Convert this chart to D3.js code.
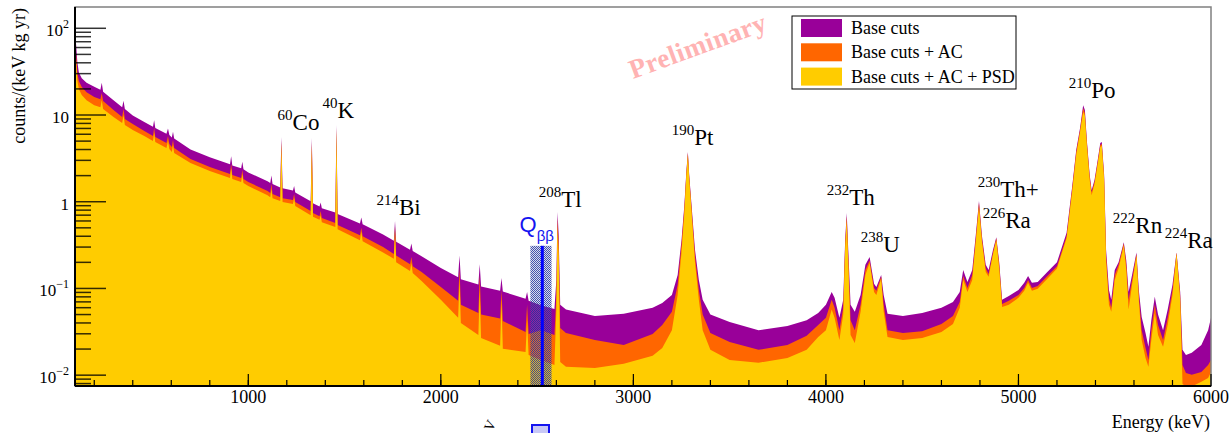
<!DOCTYPE html>
<html lang="en">
<head>
<meta charset="UTF-8"/>
<title>Energy spectrum with cuts</title>
<script src="https://d3js.org/d3.v7.min.js"></script>
<style>
body { margin: 0; background: #fff; }
svg { display: block; font-family: "Liberation Serif", "Times New Roman", serif; }
</style>
</head>
<body>
<script>
var w = 1230;
var h = 433;
var plotLeft = 75, plotRight = 1211, plotTop = 7, plotBottom = 386;

// energy points (keV) and the three spectra, counts/(keV kg yr)
var energy = [100,106,112,120,135,160,200,232,239,246,300,345,352,359,400,460,505,511,517,575,
    583,590,603,609,615,700,800,905,911,917,963,969,975,1000,1100,1114,1120,1126,1166,1172,
    1178,1232,1238,1244,1324,1330,1336,1370,1376,1382,1452,1458,1464,1580,1587,1594,1700,1756,1762,1768,
    1840,1847,1854,1900,2000,2090,2097,2104,2195,2202,2209,2308,2315,2322,2440,2448,2456,2520,2590,2600,
    2606,2612,2620,2650,2800,2950,3100,3150,3200,3230,3250,3265,3275,3283,3290,3300,3320,3340,3360,3400,
    3500,3650,3800,3900,3960,4000,4030,4045,4070,4090,4100,4108,4116,4128,4150,4180,4205,4227,4250,4262,
    4287,4300,4320,4400,4500,4600,4660,4695,4713,4735,4760,4780,4795,4810,4830,4845,4868,4885,4900,4915,
    4950,5000,5030,5050,5070,5100,5150,5200,5250,5280,5300,5320,5336,5345,5355,5370,5380,5395,5410,5425,
    5433,5445,5455,5470,5482,5500,5520,5547,5560,5572,5590,5613,5625,5640,5660,5675,5690,5708,5725,5751,
    5775,5800,5821,5840,5852,5870,5900,5950,5985,6000];

var baseCuts = [90,64,41,31,26.5,23.5,21.2,19.6,23.5,18.6,14.8,12.3,14.6,11.7,9.9,8.3,7.3,8.7,7.1,6.1,
    7.0,5.9,5.5,6.4,5.35,4.0,3.25,2.7,3.35,2.62,2.43,2.9,2.37,2.18,1.72,1.64,2.0,1.6,1.46,5.56,
    1.43,1.35,1.52,1.28,1.01,5.42,0.96,0.88,0.98,0.84,0.75,7.65,0.72,0.56,0.66,0.55,0.42,0.355,0.60,0.345,
    0.28,0.33,0.27,0.235,0.172,0.135,0.24,0.128,0.111,0.19,0.105,0.094,0.132,0.092,0.076,0.091,0.072,0.064,0.058,0.125,
    0.76,0.41,0.065,0.057,0.048,0.051,0.060,0.068,0.084,0.143,0.36,0.92,2.20,3.74,2.03,1.05,0.28,0.125,0.074,0.050,
    0.041,0.033,0.037,0.043,0.052,0.065,0.091,0.078,0.046,0.074,0.36,0.74,0.28,0.065,0.054,0.084,0.187,0.23,0.113,0.104,
    0.143,0.084,0.051,0.048,0.052,0.060,0.070,0.091,0.163,0.119,0.163,0.45,1.02,0.41,0.187,0.163,0.28,0.39,0.20,0.074,
    0.082,0.096,0.116,0.139,0.116,0.119,0.155,0.20,0.44,1.56,3.94,7.06,13.0,11.4,5.14,2.03,1.36,1.78,2.87,4.75,
    4.87,2.03,0.28,0.096,0.074,0.163,0.20,0.34,0.21,0.091,0.143,0.26,0.096,0.047,0.0307,0.0212,0.043,0.080,0.050,0.033,
    0.057,0.110,0.26,0.091,0.0196,0.0171,0.0181,0.0223,0.033,0.046];

var baseCutsAC = [73,49,31,24.6,21.0,18.3,16.1,15.2,17.9,14.5,11.4,9.46,11.7,8.97,7.86,6.52,5.71,7.06,5.56,4.75,
    5.71,4.62,4.27,5.14,4.16,3.10,2.51,2.09,2.72,2.03,1.88,2.32,1.83,1.69,1.33,1.26,1.60,1.23,1.13,5.00,
    1.10,1.05,1.23,0.99,0.78,4.87,0.74,0.68,0.78,0.65,0.57,7.06,0.54,0.41,0.50,0.40,0.30,0.25,0.52,0.24,
    0.19,0.23,0.18,0.155,0.104,0.072,0.17,0.065,0.052,0.143,0.050,0.045,0.096,0.042,0.0315,0.065,0.0299,0.033,0.0291,0.084,
    0.65,0.32,0.035,0.0307,0.0255,0.0223,0.0299,0.038,0.054,0.110,0.32,0.85,2.09,3.64,1.93,0.97,0.24,0.096,0.050,0.0307,
    0.0242,0.0196,0.0223,0.0284,0.038,0.046,0.074,0.060,0.033,0.060,0.33,0.68,0.24,0.043,0.033,0.065,0.163,0.21,0.101,0.094,
    0.136,0.065,0.033,0.0307,0.032,0.039,0.048,0.070,0.139,0.101,0.143,0.41,0.97,0.38,0.17,0.147,0.26,0.38,0.187,0.066,
    0.072,0.084,0.101,0.125,0.101,0.107,0.139,0.18,0.40,1.48,3.74,6.70,12.0,10.5,4.87,1.93,1.29,1.69,2.72,4.50,
    4.62,1.88,0.24,0.078,0.060,0.143,0.187,0.33,0.187,0.074,0.125,0.25,0.084,0.033,0.0206,0.0150,0.033,0.065,0.038,0.0255,
    0.046,0.096,0.26,0.082,0.0131,0.0106,0.0101,0.0109,0.0131,0.0150];

var baseCutsACPSD = [56,41,25,19.9,17.0,14.8,13.0,12.3,14.8,11.7,9.46,8.07,9.97,7.65,6.70,5.71,5.00,6.19,4.87,4.16,
    5.00,4.05,3.74,4.50,3.64,2.79,2.26,1.88,2.44,1.83,1.69,2.09,1.64,1.52,1.19,1.13,1.40,1.10,1.02,4.62,
    0.99,0.94,1.10,0.89,0.70,4.38,0.67,0.62,0.70,0.58,0.51,6.52,0.48,0.36,0.45,0.35,0.26,0.22,0.47,0.20,
    0.159,0.197,0.151,0.122,0.074,0.046,0.125,0.040,0.0291,0.096,0.0269,0.0218,0.074,0.0201,0.0185,0.043,0.0171,0.0150,0.0131,0.057,
    0.52,0.24,0.0142,0.0125,0.0121,0.0135,0.0167,0.0206,0.033,0.084,0.26,0.76,1.98,3.45,1.83,0.89,0.20,0.074,0.033,0.0196,
    0.0150,0.0139,0.0158,0.0196,0.0276,0.033,0.057,0.046,0.0255,0.050,0.28,0.62,0.20,0.0291,0.0235,0.054,0.143,0.197,0.091,0.084,
    0.129,0.054,0.0276,0.0255,0.0269,0.0315,0.039,0.060,0.125,0.091,0.125,0.38,0.87,0.35,0.155,0.136,0.25,0.36,0.17,0.061,
    0.065,0.078,0.094,0.116,0.094,0.099,0.129,0.17,0.38,1.36,3.45,6.35,10.8,9.71,4.50,1.78,1.19,1.60,2.58,4.27,
    4.38,1.78,0.21,0.065,0.054,0.125,0.17,0.31,0.163,0.057,0.110,0.24,0.074,0.0255,0.0158,0.0125,0.0255,0.052,0.0291,0.0212,
    0.038,0.084,0.25,0.074,0.0079,0.0074,0.0074,0.0084,0.0093,0.0109];

var seriesNames = ["Base cuts", "Base cuts + AC", "Base cuts + AC + PSD"];
var seriesColors = ["#990099", "#ff6600", "#ffcc00"];

var xTicks = [1000, 2000, 3000, 4000, 5000, 6000];
var yTicks = [0.01, 0.1, 1, 10, 100];
var yTickBase = ["10", "10", "1", "10", "10"];
var yTickExp = ["\u22122", "\u22121", "", "", "2"];

// peak labels: mass number, element, and where the label sits (keV, counts)
var peakMass = ["60", "40", "214", "208", "190", "232", "238", "230", "226", "210", "222", "224"];
var peakName = ["Co", "K", "Bi", "Tl", "Pt", "Th", "U", "Th+", "Ra", "Po", "Rn", "Ra"];
var peakLabelE = [1152, 1386, 1666, 2508, 3199, 4004, 4181, 4788, 4814, 5261, 5490, 5760];
var peakLabelV = [6.7, 9.2, 0.70, 0.87, 4.5, 0.92, 0.26, 1.13, 0.50, 15.6, 0.44, 0.29];

var qbb = 2527;
var qbbWindow = [2465, 2575];
var qbbTop = 0.31;

var x = d3.scaleLinear().domain([100, 6000]).range([plotLeft, plotRight]);
var y = d3.scaleLog().domain([0.0075, 176]).range([plotBottom, plotTop]);

var svg = d3.select("body")
    .append("svg")
    .attr("width", w)
    .attr("height", h);

var defs = svg.append("defs");
defs.append("clipPath").attr("id", "plotclip")
    .append("rect")
    .attr("x", plotLeft).attr("y", plotTop)
    .attr("width", plotRight - plotLeft).attr("height", plotBottom - plotTop);

// checker fill for the Qbb window
var pat = defs.append("pattern").attr("id", "checker")
    .attr("width", 2).attr("height", 2).attr("patternUnits", "userSpaceOnUse");
pat.append("rect").attr("width", 2).attr("height", 2).attr("fill", "#7a7fb8").attr("fill-opacity", 0.35);
pat.append("rect").attr("width", 1).attr("height", 1).attr("fill", "#2233a0");
pat.append("rect").attr("x", 1).attr("y", 1).attr("width", 1).attr("height", 1).attr("fill", "#2233a0");

var plot = svg.append("g").attr("clip-path", "url(#plotclip)");

[baseCuts, baseCutsAC, baseCutsACPSD].forEach(function (vals, i) {
    var area = d3.area()
        .x(function (d, j) { return x(energy[j]); })
        .y0(plotBottom)
        .y1(function (d) { return y(d); });
    plot.append("path")
        .datum(vals)
        .attr("d", area)
        .attr("fill", seriesColors[i]);
});

// Qbb window and line
plot.append("rect")
    .attr("x", x(qbbWindow[0]))
    .attr("y", y(qbbTop))
    .attr("width", x(qbbWindow[1]) - x(qbbWindow[0]))
    .attr("height", plotBottom - y(qbbTop))
    .attr("fill", "url(#checker)")
    .attr("opacity", 0.85);
plot.append("line")
    .attr("x1", x(qbb)).attr("x2", x(qbb))
    .attr("y1", y(qbbTop)).attr("y2", plotBottom)
    .attr("stroke", "#0000ff")
    .attr("stroke-width", 3);

// frame
svg.append("rect")
    .attr("x", plotLeft).attr("y", plotTop)
    .attr("width", plotRight - plotLeft).attr("height", plotBottom - plotTop)
    .attr("fill", "none")
    .attr("stroke", "#808080")
    .attr("stroke-width", 1.5);

// y axis ticks, pointing inward
var yMinor = [];
for (var e = -3; e <= 2; e++) {
    for (var m = 2; m <= 9; m++) {
        var v = m * Math.pow(10, e);
        if (v >= y.domain()[0] && v <= y.domain()[1]) yMinor.push(v);
    }
}
svg.selectAll(".yminor")
    .data(yMinor)
    .enter()
    .append("line")
    .attr("x1", plotLeft).attr("x2", plotLeft + 16)
    .attr("y1", function (d) { return y(d); })
    .attr("y2", function (d) { return y(d); })
    .attr("stroke", "#000").attr("stroke-opacity", 0.8).attr("stroke-width", 1.5);
svg.selectAll(".ymajor")
    .data(yTicks)
    .enter()
    .append("line")
    .attr("x1", plotLeft).attr("x2", plotLeft + 31)
    .attr("y1", function (d) { return y(d); })
    .attr("y2", function (d) { return y(d); })
    .attr("stroke", "#000").attr("stroke-opacity", 0.8).attr("stroke-width", 1.5);

var yLab = svg.selectAll(".ylab")
    .data(yTicks)
    .enter()
    .append("text")
    .attr("x", 69)
    .attr("y", function (d) { return y(d) + 8; })
    .attr("text-anchor", "end")
    .attr("font-size", 17);
yLab.append("tspan").text(function (d, i) { return yTickBase[i]; });
yLab.append("tspan")
    .attr("font-size", 12)
    .attr("dy", -8)
    .text(function (d, i) { return yTickExp[i]; });

// x axis ticks
var xMinor = d3.range(200, 6000, 200);
svg.selectAll(".xminor")
    .data(xMinor)
    .enter()
    .append("line")
    .attr("x1", function (d) { return x(d); })
    .attr("x2", function (d) { return x(d); })
    .attr("y1", plotBottom).attr("y2", plotBottom - 6)
    .attr("stroke", "#000").attr("stroke-width", 1.2);
svg.selectAll(".xmajor")
    .data(xTicks)
    .enter()
    .append("line")
    .attr("x1", function (d) { return x(d); })
    .attr("x2", function (d) { return x(d); })
    .attr("y1", plotBottom).attr("y2", plotBottom - 12)
    .attr("stroke", "#000").attr("stroke-width", 1.2);
svg.selectAll(".xlab")
    .data(xTicks)
    .enter()
    .append("text")
    .attr("x", function (d) { return x(d); })
    .attr("y", plotBottom + 17)
    .attr("text-anchor", "middle")
    .attr("font-size", 18)
    .text(function (d) { return d; });

// axis lines
svg.append("line")
    .attr("x1", plotLeft).attr("x2", plotLeft)
    .attr("y1", plotTop).attr("y2", plotBottom)
    .attr("stroke", "#000").attr("stroke-width", 2);
svg.append("line")
    .attr("x1", plotLeft).attr("x2", plotRight)
    .attr("y1", plotBottom).attr("y2", plotBottom)
    .attr("stroke", "#000").attr("stroke-width", 2);

// axis titles
svg.append("text")
    .attr("x", plotRight - 1)
    .attr("y", 428)
    .attr("text-anchor", "end")
    .attr("font-size", 18)
    .text("Energy (keV)");
svg.append("text")
    .attr("transform", "translate(25,8) rotate(-90)")
    .attr("text-anchor", "end")
    .attr("font-size", 18)
    .text("counts/(keV kg yr)");

// peak labels
peakMass.forEach(function (mass, i) {
    var t = svg.append("text")
        .attr("x", x(peakLabelE[i]))
        .attr("y", y(peakLabelV[i]))
        .attr("font-size", 23);
    t.append("tspan").attr("font-size", 15).attr("dy", -10).text(mass);
    t.append("tspan").attr("dy", 10).text(peakName[i]);
});

// Qbb label
var q = svg.append("text")
    .attr("x", x(2409))
    .attr("y", y(0.45))
    .attr("fill", "#1414f0")
    .attr("font-family", "Liberation Sans, Arial, sans-serif")
    .attr("font-size", 22);
q.append("tspan").text("Q");
q.append("tspan").attr("font-size", 15).attr("dy", 9).text("\u03b2\u03b2");

// preliminary stamp
svg.append("text")
    .attr("transform", "translate(633,79) rotate(-20)")
    .attr("font-size", 27)
    .attr("font-weight", "bold")
    .attr("fill", "#ffb3b3")
    .attr("letter-spacing", 0.5)
    .text("Preliminary");

// legend
var lg = svg.append("g");
lg.append("rect")
    .attr("x", 792).attr("y", 16)
    .attr("width", 224).attr("height", 73)
    .attr("fill", "#fff")
    .attr("stroke", "#000")
    .attr("stroke-width", 1);
seriesNames.forEach(function (name, i) {
    lg.append("rect")
        .attr("x", 801).attr("y", 19 + i * 24.3)
        .attr("width", 41).attr("height", 18)
        .attr("fill", seriesColors[i]);
    lg.append("text")
        .attr("x", 851).attr("y", 34 + i * 24.3)
        .attr("font-size", 18)
        .text(name);
});

// pieces of a second panel cut off at the bottom edge
svg.append("text")
    .attr("transform", "translate(492,432) rotate(-65)")
    .attr("font-size", 14)
    .text("V");
svg.append("rect")
    .attr("x", 532).attr("y", 425)
    .attr("width", 17).attr("height", 14)
    .attr("fill", "#c8c8f6")
    .attr("stroke", "#1414f0")
    .attr("stroke-width", 2);
</script>
</body>
</html>
